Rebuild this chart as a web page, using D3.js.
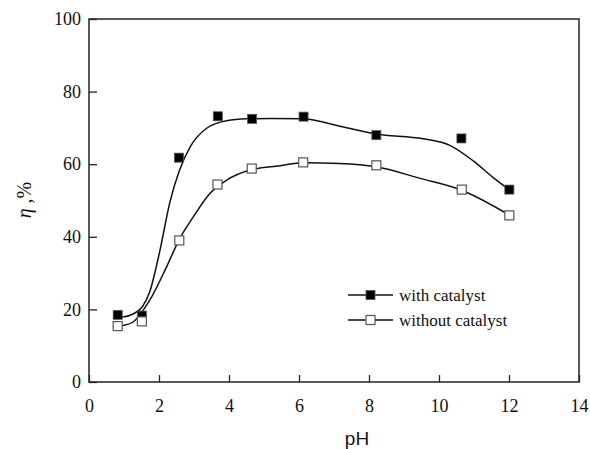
<!DOCTYPE html>
<html>
<head>
<meta charset="utf-8">
<script src="https://cdn.jsdelivr.net/npm/d3@7"></script>
<style>
  body { margin: 0; background: #fff; }
  svg text { font-family: "Liberation Serif"; }
</style>
</head>
<body>
<div id="container"></div>
<script>
/* CONSTANTS AND GLOBALS */
const width = 590,
  height = 449,
  margin = { top: 19, right: 11, bottom: 67, left: 89 };

/* DATA */
// measured points
const phWith = [0.82, 1.51, 2.57, 3.68, 4.66, 6.13, 8.21, 10.64, 12.01];
const etaWith = [18.5, 18.3, 61.8, 73.2, 72.5, 73.1, 68.0, 67.1, 53.0];
const phWithout = [0.82, 1.51, 2.58, 3.67, 4.65, 6.12, 8.21, 10.65, 12.01];
const etaWithout = [15.4, 16.7, 39.0, 54.4, 58.8, 60.5, 59.7, 53.0, 45.9];

// fitted curves
const fitXWith = [0.81, 1.0, 1.27, 1.53, 1.74, 2.03, 2.31, 2.57, 2.89, 3.36, 3.93, 4.5, 5.2, 6.1, 7.2, 8.2, 9.55, 10.31, 10.98, 11.55, 12.0];
const fitYWith = [18.2, 18.0, 18.8, 20.8, 25.0, 36.4, 49.5, 57.9, 64.8, 69.9, 72.0, 72.5, 72.6, 72.5, 70.4, 68.3, 67.0, 65.2, 60.9, 56.3, 53.0];
const fitXWithout = [0.81, 1.0, 1.27, 1.74, 2.22, 2.57, 2.98, 3.46, 3.93, 4.6, 5.46, 6.12, 7.17, 8.2, 9.46, 10.63, 12.01];
const fitYWithout = [15.4, 15.6, 16.6, 22.6, 31.8, 39.1, 45.5, 52.0, 55.6, 58.4, 59.6, 60.4, 60.2, 59.3, 56.1, 52.9, 46.0];

const xTicks = [0, 2, 4, 6, 8, 10, 12, 14];
const yTicks = [0, 20, 40, 60, 80, 100];
const seriesNames = ["with catalyst", "without catalyst"];

const innerW = width - margin.left - margin.right,
  innerH = height - margin.top - margin.bottom;

const svg = d3.select("#container")
  .append("svg")
  .attr("width", width)
  .attr("height", height)
  .attr("font-family", "Liberation Serif")

/* SCALES */
const xScale = d3.scaleLinear()
  .domain([0, 14])
  .range([margin.left, margin.left + innerW])

const yScale = d3.scaleLinear()
  .domain([0, 100])
  .range([margin.top + innerH, margin.top])

/* AXES */
const xAxis = svg.append("g")
  .attr("class", "x-axis")
  .attr("transform", `translate(0, ${margin.top + innerH})`)
  .call(d3.axisBottom(xScale).tickValues(xTicks).tickSize(-7).tickPadding(17).tickSizeOuter(0))
xAxis.select(".domain").remove()
xAxis.attr("font-family", "Liberation Serif").attr("font-size", 18)
xAxis.selectAll("text").attr("fill", "#111")

const yAxis = svg.append("g")
  .attr("class", "y-axis")
  .attr("transform", `translate(${margin.left}, 0)`)
  .call(d3.axisLeft(yScale).tickValues(yTicks).tickSize(-8).tickPadding(8).tickSizeOuter(0))
yAxis.select(".domain").remove()
yAxis.attr("font-family", "Liberation Serif").attr("font-size", 18)
yAxis.selectAll("text").attr("fill", "#111")

svg.selectAll(".tick line").attr("stroke", "#222").attr("stroke-width", 1.3)

// frame
svg.append("rect")
  .attr("x", margin.left)
  .attr("y", margin.top)
  .attr("width", innerW)
  .attr("height", innerH)
  .attr("fill", "none")
  .attr("stroke", "#222")
  .attr("stroke-width", 1.5)

/* LINES */
const line = d3.line()
  .x(d => xScale(d[0]))
  .y(d => yScale(d[1]))
  .curve(d3.curveMonotoneX)

svg.append("path")
  .datum(d3.zip(fitXWith, fitYWith))
  .attr("d", line)
  .attr("fill", "none")
  .attr("stroke", "#111")
  .attr("stroke-width", 1.5)

svg.append("path")
  .datum(d3.zip(fitXWithout, fitYWithout))
  .attr("d", line)
  .attr("fill", "none")
  .attr("stroke", "#111")
  .attr("stroke-width", 1.5)

/* MARKERS */
const sz = 9;
svg.selectAll(".pt-with")
  .data(d3.zip(phWith, etaWith))
  .join("rect")
  .attr("class", "pt-with")
  .attr("x", d => xScale(d[0]) - sz / 2)
  .attr("y", d => yScale(d[1]) - sz / 2)
  .attr("width", sz)
  .attr("height", sz)
  .attr("fill", "#000")
  .attr("stroke", "#555")
  .attr("stroke-width", 0.8)

svg.selectAll(".pt-without")
  .data(d3.zip(phWithout, etaWithout))
  .join("rect")
  .attr("class", "pt-without")
  .attr("x", d => xScale(d[0]) - sz / 2)
  .attr("y", d => yScale(d[1]) - sz / 2)
  .attr("width", sz)
  .attr("height", sz)
  .attr("fill", "#fff")
  .attr("stroke", "#555")
  .attr("stroke-width", 1.2)

/* LEGEND */
const legend = svg.append("g").attr("transform", "translate(348, 295)")
seriesNames.forEach((name, i) => {
  const g = legend.append("g").attr("transform", `translate(0, ${i * 25})`)
  g.append("line").attr("x1", 0).attr("x2", 45).attr("y1", 0).attr("y2", 0)
    .attr("stroke", "#111").attr("stroke-width", 1.5)
  g.append("rect")
    .attr("x", 22.5 - sz / 2).attr("y", -sz / 2).attr("width", sz).attr("height", sz)
    .attr("fill", i === 0 ? "#000" : "#fff")
    .attr("stroke", "#555").attr("stroke-width", i === 0 ? 0.8 : 1.2)
  g.append("text")
    .attr("x", 51).attr("y", 6)
    .attr("font-family", "Liberation Serif")
    .attr("font-size", 17)
    .attr("fill", "#111")
    .text(name)
})

/* LABELS */
svg.append("text")
  .attr("x", 357).attr("y", 445)
  .attr("text-anchor", "middle")
  .style("font-family", "Liberation Sans")
  .attr("font-size", 19)
  .attr("fill", "#111")
  .text("pH")

const yl = svg.append("text")
  .attr("transform", "translate(31, 200) rotate(-90)")
  .attr("text-anchor", "middle")
  .attr("font-family", "Liberation Serif")
  .attr("font-size", 20)
  .attr("fill", "#111")
yl.append("tspan").attr("font-style", "italic").text("η")
yl.append("tspan").text(" ,%")
</script>
</body>
</html>
